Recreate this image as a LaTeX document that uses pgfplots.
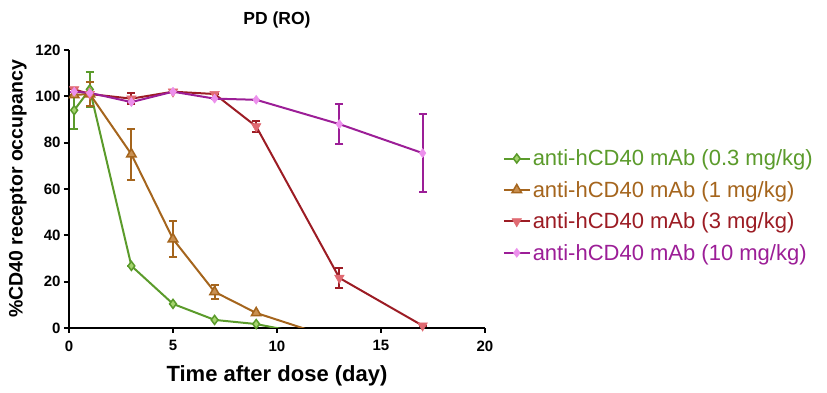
\documentclass[border=0pt]{standalone}
\usepackage{pgfplots}
\pgfplotsset{compat=1.18}
\usepackage{fontspec}
\setmainfont{Liberation Sans}
\definecolor{cg}{HTML}{5B9B2B}
\definecolor{cgf}{HTML}{A5D46E}
\definecolor{cb}{HTML}{A5651D}
\definecolor{cbf}{HTML}{C99050}
\definecolor{cr}{HTML}{9C1C24}
\definecolor{crf}{HTML}{E06A72}
\definecolor{cm}{HTML}{9C1E97}
\definecolor{cmf}{HTML}{EC90EC}
\pgfplotsset{
  myerr/.style={
    /pgfplots/error bars/y dir=both,
    /pgfplots/error bars/y explicit,
    /pgfplots/error bars/error bar style={line width=2pt, solid},
    /pgfplots/error bars/error mark options={rotate=90, mark size=4pt, line width=2pt}},
}
\begin{document}
\begin{tikzpicture}
\path[use as bounding box] (-69pt,-65pt) rectangle (758pt,328pt);
\begin{axis}[
  at={(0,0)}, anchor=south west,
  scale only axis, width=416pt, height=278pt,
  xmin=0, xmax=20, ymin=0, ymax=120,
  axis lines=left, axis line style={line width=2.3pt, -},
  xtick={0,5,10,15,20}, ytick={0,20,...,120},
  tick align=outside, major tick length=5pt,
  tick style={line width=2pt, black},
  tick label style={font=\fontsize{15}{17}\selectfont\bfseries},
  xticklabel style={yshift=-4pt},
  /pgf/number format/assume math mode=true,
  xlabel={Time after dose (day)},
  ylabel={\%CD40 receptor occupancy},
  xlabel style={font=\fontsize{22}{24}\selectfont\bfseries, yshift=-8pt},
  ylabel style={font=\fontsize{19.5}{22}\selectfont\bfseries, yshift=2pt},
  title={PD (RO)},
  title style={font=\fontsize{17.5}{20}\selectfont\bfseries, yshift=12pt},
  clip=true,
  legend style={draw=none, at={(1.035,0.44)}, anchor=west, font=\fontsize{22}{24}\selectfont, row sep=10pt, legend cell align=left},
  legend image code/.code={
    \draw[mark repeat=2, mark phase=2, #1] plot coordinates {(0pt,0pt) (13pt,0pt) (26pt,0pt)};
  },
  every axis plot/.append style={line width=2pt},
]
% green 0.3 mg/kg
\addplot[color=cg, mark=diamond*, mark size=4.5pt, mark options={fill=cgf, draw=cg, line width=1.5pt}, myerr]
  table[x=x, y=y, y error=e] {
x y e
0.25 94 8
1 103 7.7
3 26.8 0
5 10.4 0
7 3.5 0
9 1.7 0
13 -5.3 0
};
\addlegendentry[text=cg]{anti-hCD40 mAb (0.3 mg/kg)}
% brown 1 mg/kg
\addplot[color=cb, mark=triangle*, mark size=5.5pt, mark options={fill=cbf, draw=cb, line width=1.5pt}, myerr]
  table[x=x, y=y, y error=e] {
x y e
0.25 100.6 0
1 101 5
3 75 11
5 38.4 7.8
7 15.6 3
9 6.5 0
13 -5.2 0
};
\addlegendentry[text=cb]{anti-hCD40 mAb (1 mg/kg)}
% red 3 mg/kg
\addplot[color=cr, mark=triangle*, mark size=5.5pt, mark options={fill=crf, draw=crf, rotate=180, line width=0.5pt}, myerr]
  table[x=x, y=y, y error=e] {
x y e
0.25 103 0
1 101 0
3 99 2.5
5 102 0
7 101 0
9 87 2.3
13 21.6 4.3
17 1 0
};
\addlegendentry[text=cr]{anti-hCD40 mAb (3 mg/kg)}
% magenta 10 mg/kg
\addplot[color=cm, mark=diamond*, mark size=4.5pt, mark options={fill=cmf, draw=cmf, line width=0.5pt}, myerr]
  table[x=x, y=y, y error=e] {
x y e
0.25 102 0
1 101.5 0
3 97.5 0
5 102 0
7 99 0
9 98.5 0
13 88 8.5
17 75.5 16.7
};
\addlegendentry[text=cm]{anti-hCD40 mAb (10 mg/kg)}
\end{axis}
\end{tikzpicture}
\end{document}
